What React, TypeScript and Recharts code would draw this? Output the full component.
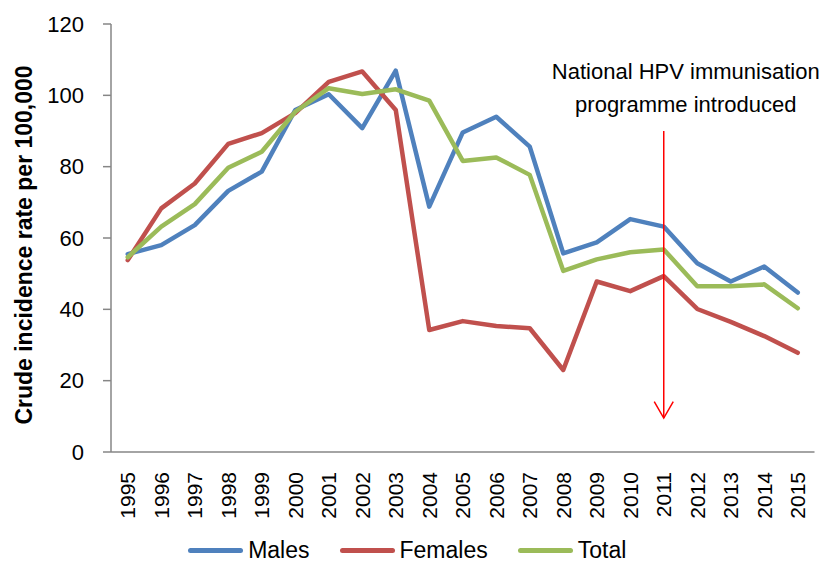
import React from 'react';
import { LineChart, Line, XAxis, YAxis, Legend, ReferenceLine } from 'recharts';

const years = ['1995','1996','1997','1998','1999','2000','2001','2002','2003','2004','2005','2006','2007','2008','2009','2010','2011','2012','2013','2014','2015'];
const males = [55.5, 58.0, 63.6, 73.2, 78.6, 95.9, 100.3, 90.8, 106.9, 68.8, 89.6, 94.0, 85.6, 55.7, 58.8, 65.3, 63.2, 52.9, 47.8, 52.0, 44.7];
const females = [53.8, 68.3, 75.3, 86.4, 89.4, 95.0, 103.8, 106.7, 95.9, 34.2, 36.7, 35.3, 34.7, 23.0, 47.8, 45.1, 49.3, 40.1, 36.5, 32.5, 27.8];
const total = [54.6, 63.2, 69.5, 79.7, 84.2, 95.4, 102.0, 100.4, 101.7, 98.5, 81.6, 82.6, 77.7, 50.8, 54.0, 56.0, 56.8, 46.5, 46.5, 47.0, 40.3];
const seriesNames = ['Males', 'Females', 'Total'];
const seriesColors = ['#4F81BD', '#C0504D', '#9BBB59'];
const yTicks = [0, 20, 40, 60, 80, 100, 120];
const yLabel = 'Crude incidence rate per 100,000';
const annotationLines = ['National HPV immunisation', 'programme introduced'];
const annotationYear = '2011';
const arrowFrom = 90;
const arrowTo = 9.5;

const W = 822;
const H = 562;
const M = { top: 24, right: 7.5, bottom: 0, left: 0 };
const Y_W = 111;
const LEGEND_H = 34;
const X_H = H - M.top - 428 - LEGEND_H;
const PLOT_W = W - M.left - M.right - Y_W;
const HALF_BAND = PLOT_W / years.length / 2;

const FONT = '"Liberation Sans", Arial, sans-serif';
const AXIS = '#868686';

const seriesValues = [males, females, total];
const data = years.map((y, i) => {
  const row: any = { year: y, edge: i + 0.5 };
  seriesNames.forEach((n, k) => { row[n] = seriesValues[k][i]; });
  return row;
});
const edgeTicks = Array.from({ length: years.length + 1 }, (_, i) => i);

const XTick = (props: any) => {
  const { x, y, payload } = props;
  return (
    <text
      x={x}
      y={y}
      transform={`rotate(-90 ${x} ${y})`}
      textAnchor="end"
      dominantBaseline="central"
      fontSize={21}
      fontFamily={FONT}
      fill="#000"
    >
      {payload.value}
    </text>
  );
};

const Empty = () => <g />;

const YLabel = (props: any) => {
  const vb = props.viewBox;
  const cx = vb.x + 24;
  const cy = vb.y + vb.height / 2 + 7;
  return (
    <text
      x={cx}
      y={cy}
      transform={`rotate(-90 ${cx} ${cy})`}
      textAnchor="middle"
      dominantBaseline="central"
      fontSize={23}
      fontWeight="bold"
      fontFamily={FONT}
      fill="#000"
    >
      {yLabel}
    </text>
  );
};

const ArrowShape = (props: any) => {
  const { x1, y1, x2, y2 } = props;
  return (
    <g>
      <line x1={x1} y1={y1} x2={x2} y2={y2} stroke="#FF0000" strokeWidth={1.5} />
      <polyline
        points={`${x2 - 9.5},${y2 - 16.5} ${x2},${y2} ${x2 + 9.5},${y2 - 16.5}`}
        fill="none"
        stroke="#FF0000"
        strokeWidth={1.5}
      />
      {annotationLines.map((t, i) => (
        <text
          key={i}
          x={x1 + 22}
          y={y1 - 52 + i * 32.5}
          textAnchor="middle"
          fontSize={22}
          fontFamily={FONT}
          fill="#000"
        >
          {t}
        </text>
      ))}
    </g>
  );
};

const LegendContent = (props: any) => {
  const payload = [...(props.payload || [])].sort(
    (a: any, b: any) => seriesNames.indexOf(a.value) - seriesNames.indexOf(b.value)
  );
  return (
    <div
      style={{
        height: LEGEND_H,
        boxSizing: 'border-box',
        paddingTop: 10,
        display: 'flex',
        justifyContent: 'center',
        alignItems: 'center',
        fontFamily: FONT,
        fontSize: 23,
        color: '#000',
      }}
    >
      {payload.map((p: any, i: number) => (
        <div key={i} style={{ display: 'flex', alignItems: 'center', marginLeft: i === 0 ? 0 : 30 }}>
          <div style={{ width: 55, height: 5, borderRadius: 3, background: p.color, marginRight: 5 }} />
          <span style={{ lineHeight: '24px', whiteSpace: 'nowrap' }}>{p.value}</span>
        </div>
      ))}
    </div>
  );
};

export default function App() {
  return (
    <div style={{ position: 'absolute', left: 0, top: 0, width: W, height: H, background: '#fff' }}>
      <LineChart width={W} height={H} data={data} margin={M}>
        <XAxis
          xAxisId="edges"
          dataKey="edge"
          type="number"
          domain={[0, years.length]}
          allowDataOverflow
          ticks={edgeTicks}
          height={0}
          axisLine={false}
          tickLine={{ stroke: AXIS, strokeWidth: 1.5 }}
          tickSize={8}
          tick={<Empty />}
          interval={0}
        />
        <XAxis
          dataKey="year"
          height={X_H}
          padding={{ left: HALF_BAND, right: HALF_BAND }}
          axisLine={{ stroke: AXIS, strokeWidth: 1.5 }}
          tickLine={false}
          tickSize={8}
          tickMargin={12}
          tick={<XTick />}
          interval={0}
        />
        <YAxis
          width={Y_W}
          domain={[0, 120]}
          ticks={yTicks}
          interval={0}
          axisLine={{ stroke: AXIS, strokeWidth: 1.5 }}
          tickLine={{ stroke: AXIS, strokeWidth: 1.5 }}
          tickSize={8}
          tickMargin={19}
          tick={{ fill: '#000', fontSize: 22, fontFamily: FONT }}
          label={<YLabel />}
        />
        <Legend verticalAlign="bottom" height={LEGEND_H} content={<LegendContent />} />
        {seriesNames.map((n, k) => (
          <Line
            key={n}
            dataKey={n}
            name={n}
            stroke={seriesColors[k]}
            strokeWidth={4.5}
            dot={false}
            strokeLinejoin="round"
            strokeLinecap="round"
            isAnimationActive={false}
          />
        ))}
        <ReferenceLine
          segment={[{ x: annotationYear, y: arrowFrom }, { x: annotationYear, y: arrowTo }]}
          ifOverflow="visible"
          shape={ArrowShape}
        />
      </LineChart>
    </div>
  );
}
